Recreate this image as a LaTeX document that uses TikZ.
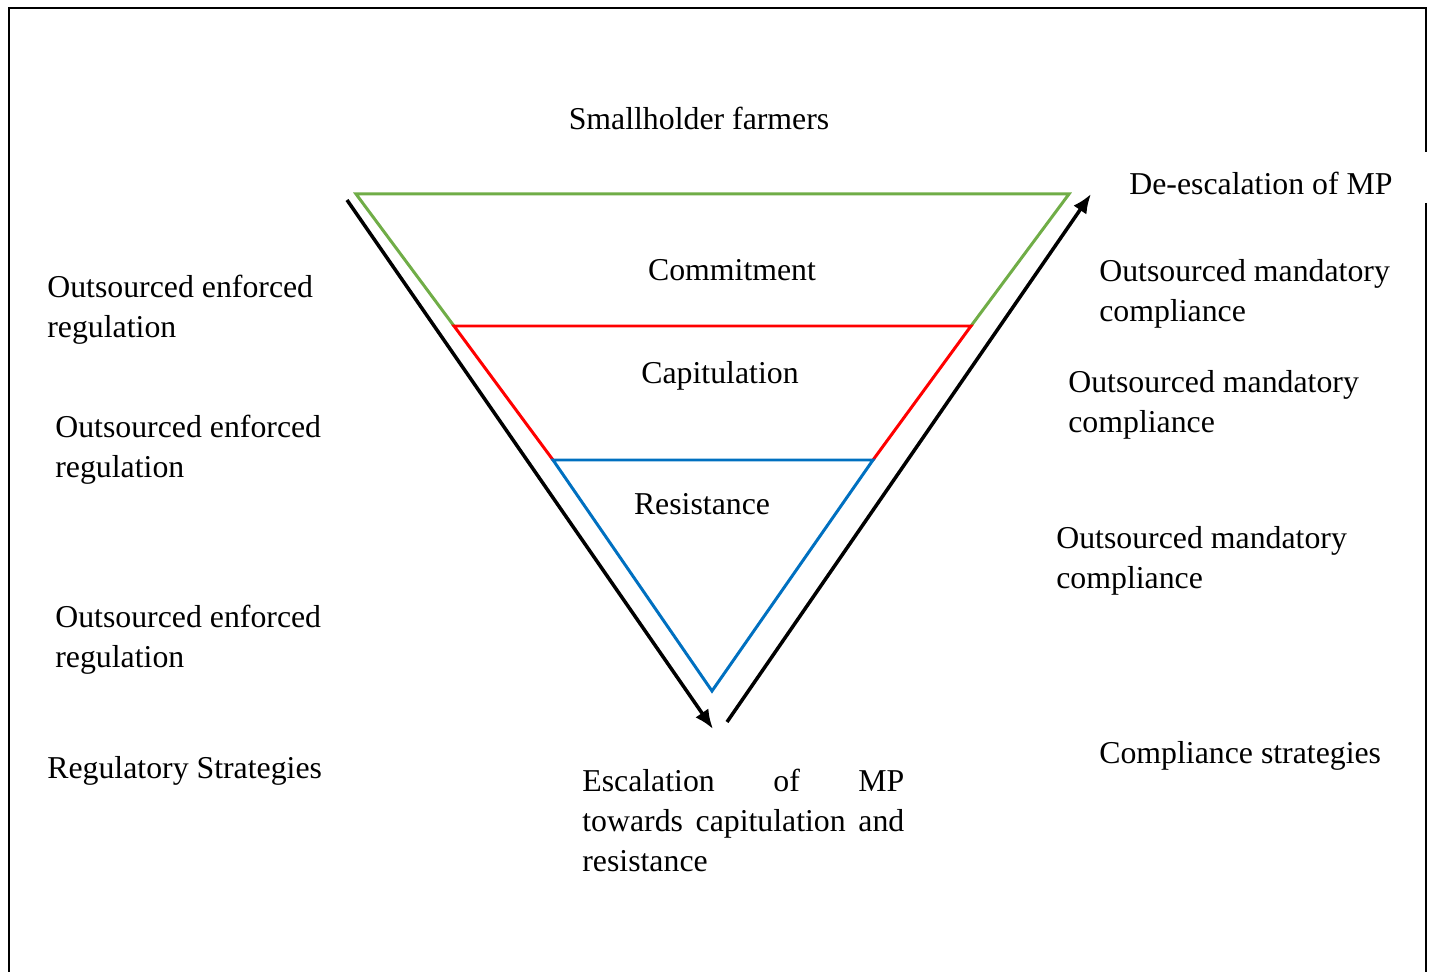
\documentclass[tikz,border=0pt]{standalone}
\usepackage{fontspec}
\setmainfont{Liberation Serif}
\usetikzlibrary{arrows.meta}
\definecolor{cgreen}{RGB}{112,173,71}
\definecolor{cred}{RGB}{255,0,0}
\definecolor{cblue}{RGB}{0,112,192}
\begin{document}
\begin{tikzpicture}[x=0.02cm,y=-0.02cm,
  lbl/.style={inner sep=0pt,font=\fontsize{18.1pt}{22.76pt}\selectfont},
  mlbl/.style={lbl,anchor=north west,align=left},
  tri/.style={line width=1.7pt,line join=miter},
  arr/.style={line width=2pt,-{Latex[length=11pt,width=9pt]}},
  frame/.style={line width=1.4pt}]
\useasboundingbox (0,0) rectangle (1431,972);
% frame
\draw[frame] (9,972) -- (9,8) -- (1426,8) -- (1426,152);
\draw[frame] (1426,203) -- (1426,972);
% triangle coordinates
\coordinate (gl) at (356,194);
\coordinate (gr) at (1069,194);
\coordinate (rl) at (454,326);
\coordinate (rr) at (971,326);
\coordinate (bl) at (553,460);
\coordinate (br) at (873,460);
\coordinate (ap) at (712,691);
\draw[tri,cgreen] (rl) -- (gl) -- (gr) -- (rr);
\draw[tri,cred] (bl) -- (rl) -- (rr) -- (br);
\draw[tri,cblue] (bl) -- (br) -- (ap) -- cycle;
% arrows
\coordinate (a1s) at (347,200);
\coordinate (a1e) at (713,729);
\coordinate (a2s) at (727,722);
\coordinate (a2e) at (1091,194);
\draw[arr] (a1s) -- (a1e);
\draw[arr] (a2s) -- (a2e);
% labels
\node[lbl] (sf) at (699,118) {Smallholder farmers};
\node[lbl,anchor=west] (de) at (1129,183) {De-escalation of MP};
\node[lbl] (com) at (732,270) {Commitment};
\node[lbl] (cap) at (720,376) {Capitulation};
\node[lbl] (res) at (702,504) {Resistance};
\node[mlbl] (l1) at (47,275) {Outsourced enforced\\regulation};
\node[mlbl] (l2) at (55,415) {Outsourced enforced\\regulation};
\node[mlbl] (l3) at (55,605) {Outsourced enforced\\regulation};
\node[lbl,anchor=west] (l4) at (47,771) {Regulatory Strategies};
\node[mlbl] (r1) at (1099,259) {Outsourced mandatory\\compliance};
\node[mlbl] (r2) at (1068,370) {Outsourced mandatory\\compliance};
\node[mlbl] (r3) at (1056,526) {Outsourced mandatory\\compliance};
\node[lbl,anchor=west] (r4) at (1099,756) {Compliance strategies};
\node[lbl,anchor=north west,align=left] (esc) at (582,769)
  {\hbox to 6.44cm{Escalation\hfill of\hfill MP}\\
   \hbox to 6.44cm{towards\hfill capitulation\hfill and}\\
   resistance};
\end{tikzpicture}
\end{document}
